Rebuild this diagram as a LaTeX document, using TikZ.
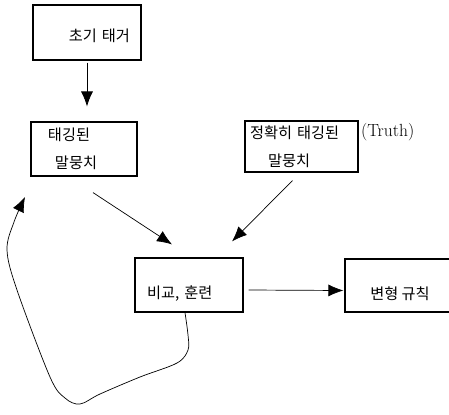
\documentclass[tikz,border=0pt]{standalone}
\usepackage{fontspec}
\newfontfamily\kor{Noto Sans CJK KR}
\usetikzlibrary{arrows.meta}
\usetikzlibrary{calc}
\tikzset{every picture/.style={line width=0.6pt}}

\begin{document}
\begin{tikzpicture}[x=0.03cm,y=-0.03cm,
box/.style={draw,line width=1pt,inner sep=0pt,font=\kor\fontsize{13}{24}\selectfont},
arr/.style={-{Latex[length=0.45cm,width=0.36cm]}},
lowtext/.style={text height=0.87cm,text depth=0.05cm}]
\useasboundingbox (0,0) rectangle (449,414);
% boxes
\node (init) at (87,32.5) [box,minimum width=3.24cm,minimum height=1.65cm,text width=2.58cm,align=right,text height=0.6cm,text depth=0.05cm] {초기 태거};
\node (tagged) at (84,149) [box,minimum width=3.18cm,minimum height=1.62cm,text width=2.16cm,align=left] {태깅된\\\hspace{0.21cm}말뭉치};
\node (truthbox) at (301.5,146.5) [box,minimum width=3.39cm,minimum height=1.53cm,text width=3.09cm,align=left] {정확히 태깅된\\\hspace{0.54cm}말뭉치};
\node (truth) at ($(truthbox.north east)+(1,12)$) [anchor=west,inner sep=1pt,font=\fontsize{15}{17}\selectfont] {(Truth)};
\node (compare) at (189,285) [box,lowtext,minimum width=3.24cm,minimum height=1.62cm,text width=2.52cm,align=left] {비교, 훈련};
\node (rule) at (400,285.5) [box,lowtext,minimum width=3.3cm,minimum height=1.59cm] {변형 규칙};
% arrows
\draw[arr,shorten >=0.45cm,shorten <=0.06cm] (init.south) -- (init.south |- tagged.north);
\draw[arr] ($(tagged.south)+(9,16)$) -- ($(compare.north)+(-17,-13)$);
\draw[arr] ($(truthbox.south)+(-9,8)$) -- ($(compare.north)+(43,-16)$);
\draw[arr] ($(compare.east)+(5,5)$) -- ($(rule.west)+(-1,5)$);
% feedback loop
\coordinate (back) at (25,197);
\draw[arr] plot[smooth,tension=0.55] coordinates {($(compare.south)+(-4,0)$) (188,335) (188,350) (177,363) (140,377) (100,394) (80,404) (65,398) (50,377) (17,290) (7,250) (14,222) (back)};
\end{tikzpicture}
\end{document}
